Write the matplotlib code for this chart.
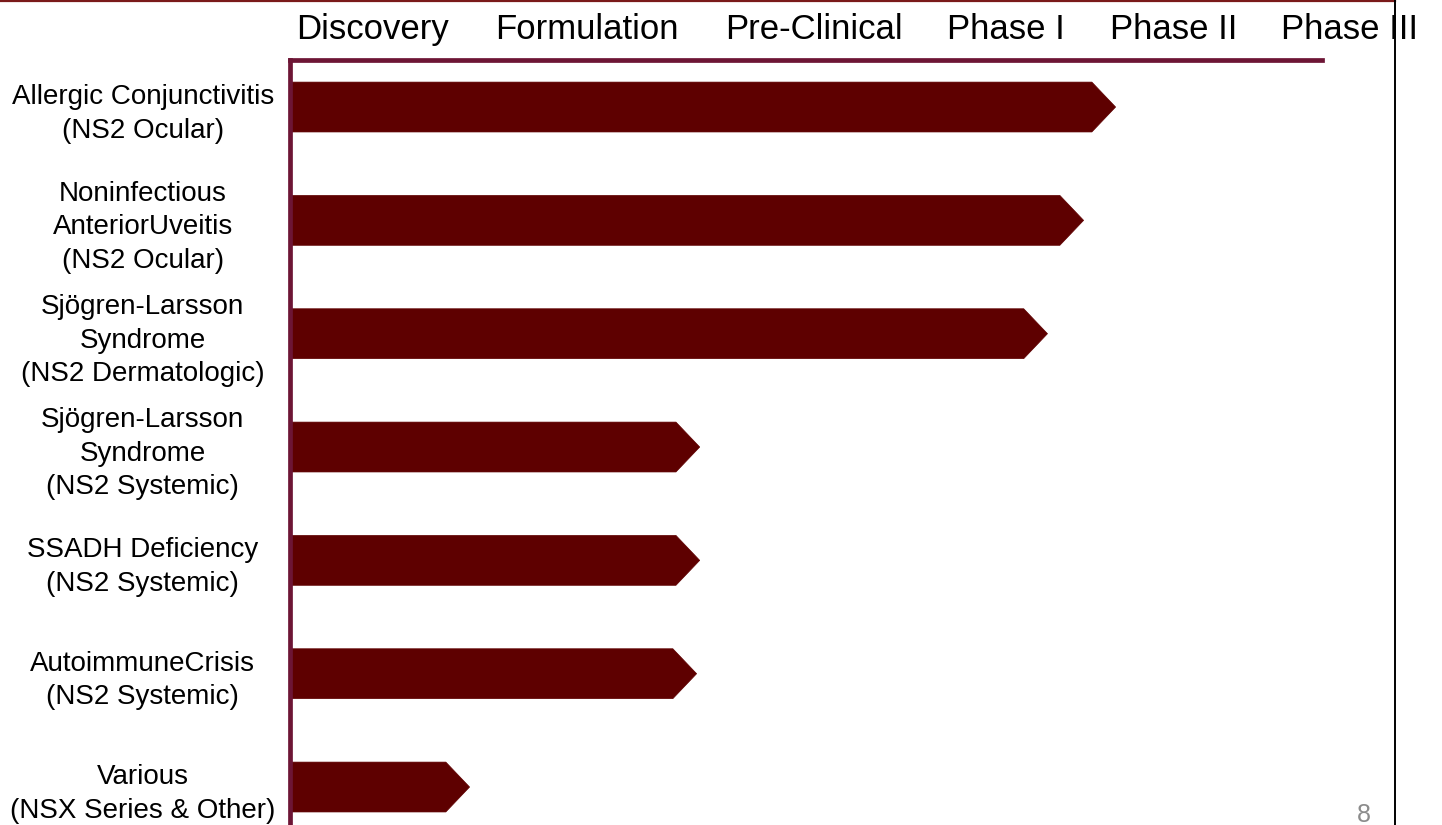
import numpy as np
import matplotlib
matplotlib.use("Agg")
import matplotlib.pyplot as plt
from matplotlib.patches import Polygon
from matplotlib.lines import Line2D
import matplotlib.transforms as mtransforms

plt.rcParams['font.family'] = ['Liberation Sans', 'DejaVu Sans']

# programs (top to bottom) and how far each has progressed (0-100 scale)
programs = [
    "Allergic Conjunctivitis\n(NS2 Ocular)",
    "Noninfectious\nAnteriorUveitis\n(NS2 Ocular)",
    "Sjögren-Larsson\nSyndrome\n(NS2 Dermatologic)",
    "Sjögren-Larsson\nSyndrome\n(NS2 Systemic)",
    "SSADH Deficiency\n(NS2 Systemic)",
    "AutoimmuneCrisis\n(NS2 Systemic)",
    "Various\n(NSX Series & Other)",
]
progress = [80.0, 76.9, 73.4, 39.7, 39.7, 39.4, 17.4]

phases = ["Discovery", "Formulation", "Pre-Clinical", "Phase I", "Phase II", "Phase III"]
phase_pos = [8.0, 28.8, 50.8, 69.4, 85.6, 102.7]

bar_col = "#5e0000"
axis_col = "#6d1535"
tip = 2.3
half = 0.22

fig = plt.figure(figsize=(14.42, 8.25), dpi=100)
ax = fig.add_axes([290/1442, 0, 1032/1442, 765/825])

for i, v in enumerate(progress):
    body = v - tip
    pts = [(0, i - half), (body, i - half), (v, i), (body, i + half), (0, i + half)]
    ax.add_patch(Polygon(pts, closed=True, facecolor=bar_col, edgecolor=bar_col, lw=0.5, zorder=2))

ax.set_xlim(0, 100)
ax.set_ylim(6.335, -0.415)

for s in ['right', 'bottom']:
    ax.spines[s].set_visible(False)
for s in ['top', 'left']:
    ax.spines[s].set_color(axis_col)
    ax.spines[s].set_linewidth(3.4)
    ax.spines[s].set_zorder(5)

ax.set_xticks([])
ax.set_yticks(range(len(programs)))
ax.set_yticklabels(programs, fontsize=20, linespacing=1.38)
for lab in ax.get_yticklabels():
    lab.set_ha('center')
ax.tick_params(axis='y', length=0, pad=106)

trans = mtransforms.blended_transform_factory(ax.transData, ax.transAxes)
for p, x in zip(phases, phase_pos):
    ax.text(x, 1.027, p, transform=trans, ha='center', va='baseline',
            fontsize=25, clip_on=False)

# slide border and page number
fig.add_artist(Line2D([0, 1395/1442], [1 - 1/825, 1 - 1/825], color="#7a1a1a", lw=1.6))
fig.add_artist(Line2D([1395/1442, 1395/1442], [0, 1], color="black", lw=1.4))
fig.text(1364/1442, 3/825, "8", ha='center', va='baseline', fontsize=18, color="#8c8c8c")

fig.savefig("out.png", dpi=100)
